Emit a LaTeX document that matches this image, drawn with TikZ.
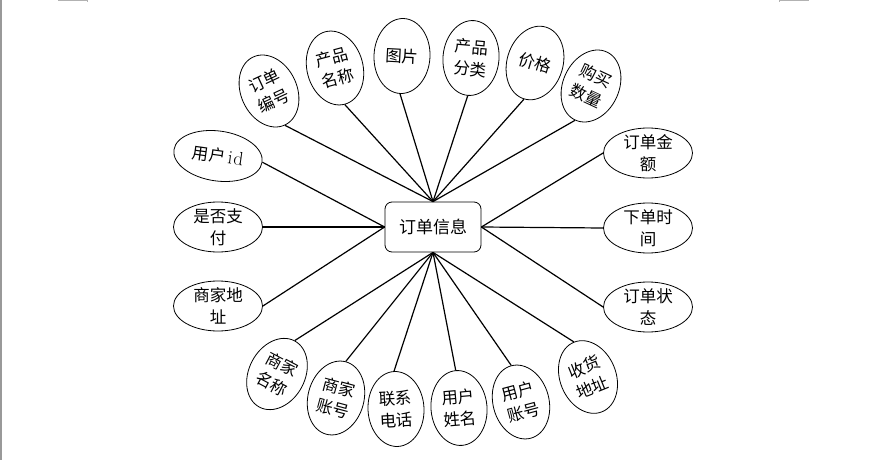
\documentclass[tikz,border=0pt]{standalone}
\usepackage{fontspec}
\newfontfamily\cjk{Noto Sans CJK SC}
\usetikzlibrary{shapes.geometric}
\begin{document}
\begin{tikzpicture}[x=1pt,y=-1pt,
  attr/.style={draw=black, line width=0.8pt, ellipse, inner sep=-4pt, align=center,
    font=\cjk\fontsize{16.5}{22}\selectfont},
  vattr/.style={attr, minimum width=56pt, minimum height=75pt},
  hattr/.style={attr, minimum width=89pt, minimum height=50pt},
  hub/.style={draw=black, line width=0.8pt, rounded corners=7pt, minimum width=96pt,
    minimum height=50pt, font=\cjk\fontsize{17}{20}\selectfont},
  link/.style={line width=1.2pt, black},
  cropmark/.style={gray!60, line width=1pt}]
\useasboundingbox (0,0) rectangle (871,460);
% page edge and crop marks
\draw[gray!80, line width=1.5pt] (0.75,0) -- (0.75,460);
\draw[cropmark] (58,1) -- (88,1);
\draw[cropmark] (87.5,0) -- (87.5,2.5);
\draw[cropmark] (779,1) -- (809,1);
\draw[cropmark] (779.5,0) -- (779.5,2.5);
% hub
\node[hub] (c) at (433,227) {订单信息};
% top attributes
\node[vattr, rotate=25]  (e1) at (269,91) {订单\\编号};
\node[vattr, rotate=15]  (e2) at (335,68) {产品\\名称};
\node[vattr, rotate=-3]  (e3) at (402,56) {图片};
\node[vattr, rotate=-5]  (e4) at (471,58) {产品\\分类};
\node[vattr, rotate=-17] (e5) at (535,63) {价格};
\node[vattr, rotate=-25] (e6) at (591,86) {购买\\数量};
% bottom attributes
\node[vattr, rotate=-28] (b1) at (277,374) {商家\\名称};
\node[vattr, rotate=-15] (b2) at (336,398) {商家\\账号};
\node[vattr, rotate=3]   (b3) at (396,409) {联系\\电话};
\node[vattr, rotate=5]   (b4) at (459,408) {用户\\姓名};
\node[vattr, rotate=15]  (b5) at (521,402) {用户\\账号};
\node[vattr, rotate=22]  (b6) at (588,377) {收货\\地址};
% left attributes
\node[hattr, rotate=-8] (l1) at (218,156) {用户\,{\rmfamily\fontsize{19}{22}\selectfont i\kern1pt d}};
\node[hattr] (l2) at (218,227) {是否支\\付};
\node[hattr] (l3) at (218,306) {商家地\\址};
% right attributes
\node[hattr] (r1) at (648,153) {订单金\\额};
\node[hattr] (r2) at (648,228) {下单时\\间};
\node[hattr] (r3) at (648,307) {订单状\\态};
% connectors
\foreach \n in {e1,e2,e3,e4,e5,e6} \draw[link] (c.north) -- (\n.south);
\foreach \n in {b1,b2,b3,b4,b5,b6} \draw[link] (c.south) -- (\n.north);
\foreach \n in {l1,l2,l3} \draw[link] (c.west) -- (\n.east);
\foreach \n in {r1,r2,r3} \draw[link] (c.east) -- (\n.west);
\end{tikzpicture}
\end{document}
